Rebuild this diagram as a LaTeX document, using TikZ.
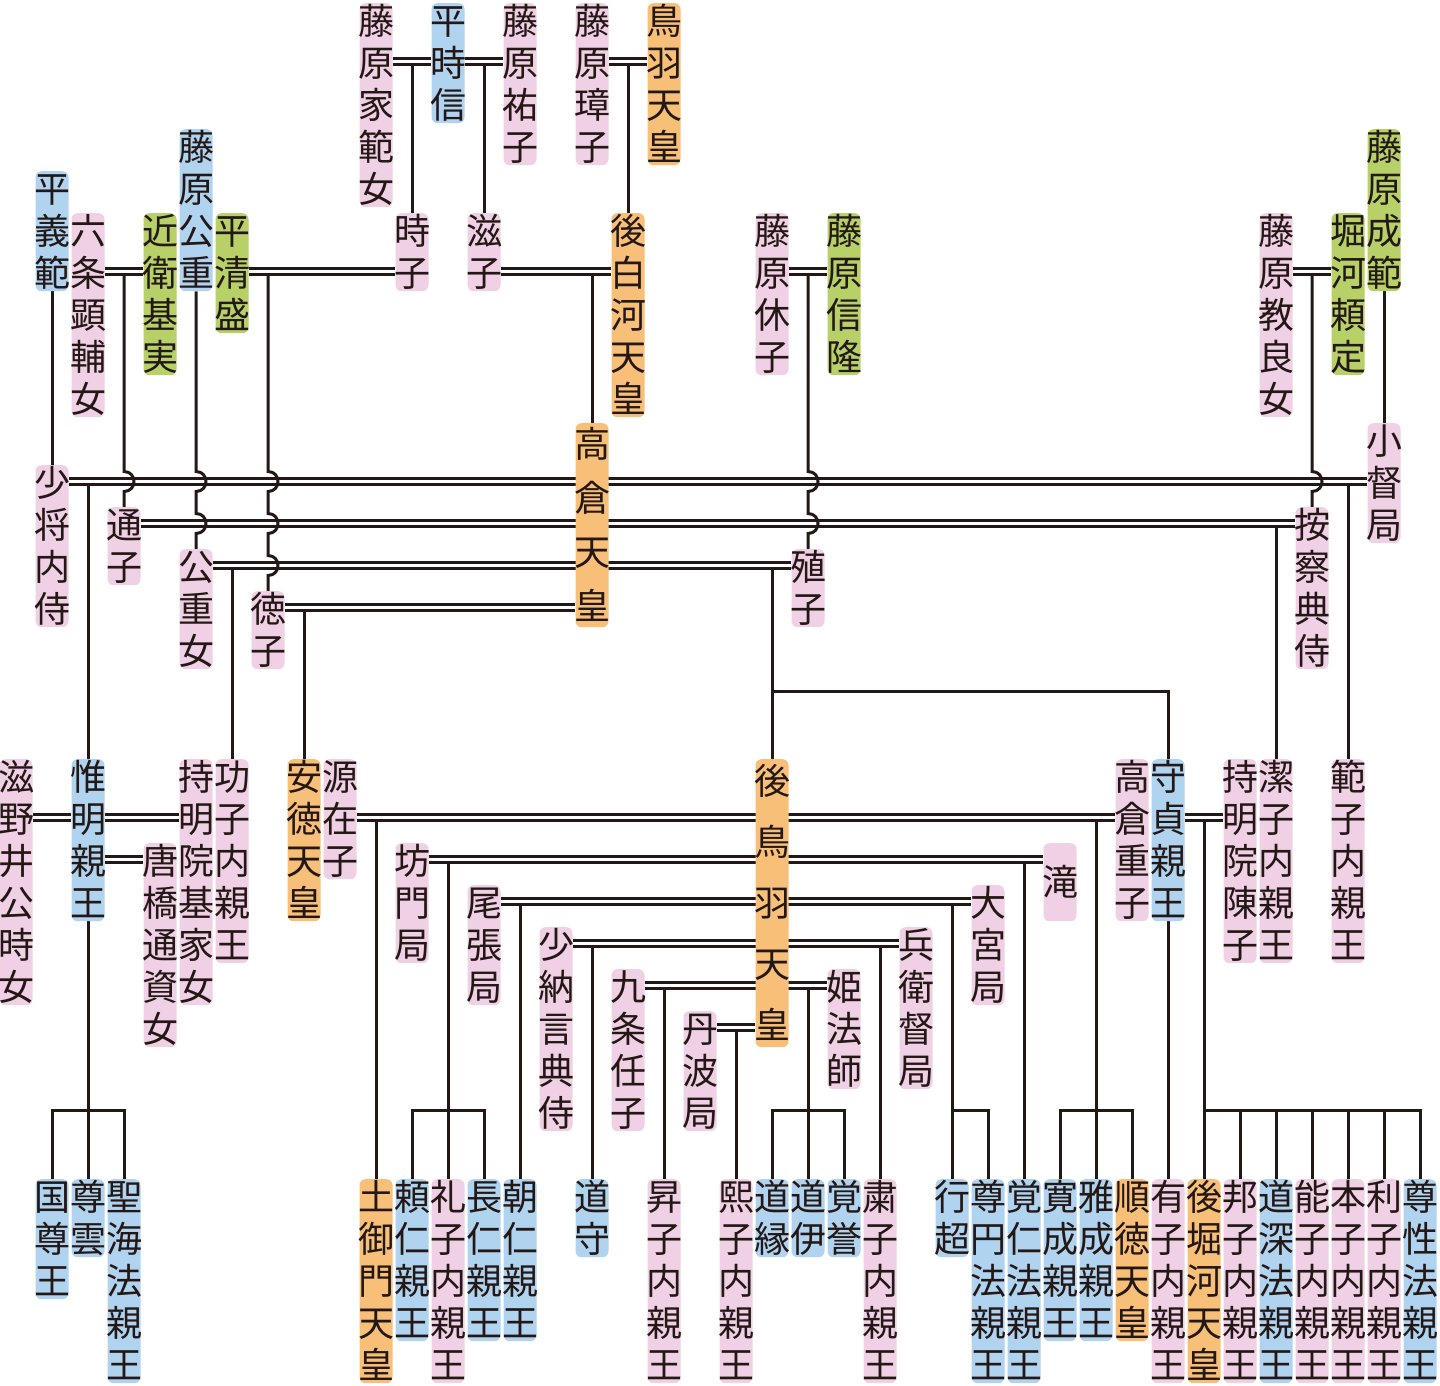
\documentclass[tikz,border=0pt]{standalone}
\usepackage{fontspec}
\newfontfamily\jp{Noto Sans CJK JP}
\usetikzlibrary{backgrounds}
\definecolor{pk}{HTML}{F0D0E4}
\definecolor{bl}{HTML}{B0D3EF}
\definecolor{og}{HTML}{F7BF78}
\definecolor{gr}{HTML}{B7D067}
\definecolor{ink}{HTML}{231815}
\newdimen\tatepitch
\newcommand\tatestrut{\rule[\dimexpr 13.7pt-\tatepitch/2\relax]{0pt}{\tatepitch}}
\def\tateloop#1{\ifx\relax#1\else\hbox to 33pt{\hss\tatestrut#1\hss}\expandafter\tateloop\fi}
\newcommand\tate[3]{\tatepitch=#2pt\relax\vbox to #1pt{\offinterlineskip\vss\tateloop#3\relax\vss}}
\tikzset{
  pbox/.style={anchor=north, inner sep=0pt, rounded corners=6pt, minimum width=33pt,
    text=ink, font=\jp\fontsize{36}{42}\selectfont},
  ln/.style={draw=ink, line width=3pt}
}
\newcommand\psn[7][42]{\node[pbox,fill=#6] (#2) at (#3,#4) {\tate{#5}{#1}{#7}};}
\newcommand\marr[3]{\draw[ln] (#1.east |- 0,#3) -- (#2.west |- 0,#3);
  \draw[ln] (#1.east |- 0,#3+6) -- (#2.west |- 0,#3+6);}
\newcommand\drop[2]{\draw[ln] (#1.north |- 0,#2) -- (#1.north);}
\newcommand\branch[2]{\draw[ln] (#1.north) -- (#1.north |- 0,1110) -- (#2.north |- 0,1110) -- (#2.north);}
\begin{document}
\begin{tikzpicture}[x=1pt,y=-1pt]
\useasboundingbox (0,0) rectangle (1440,1386);
% top
\psn{ieno}{376}{3}{204}{pk}{藤原家範女}
\psn{tokinobu}{448}{3}{120}{bl}{平時信}
\psn{yuko}{520}{3}{162}{pk}{藤原祐子}
\psn{shoshi}{592}{3}{162}{pk}{藤原璋子}
\psn{toba}{664}{3}{162}{og}{鳥羽天皇}
\psn{kinshige}{196}{129}{162}{bl}{藤原公重}
\psn{narinori}{1384}{129}{162}{gr}{藤原成範}
\psn{yoshinori}{52}{171}{120}{bl}{平義範}
\psn{rokujo}{88}{213}{204}{pk}{六条顕輔女}
\psn{motozane}{160}{213}{162}{gr}{近衛基実}
\psn{kiyomori}{232}{213}{120}{gr}{平清盛}
\psn{tokiko}{412}{213}{78}{pk}{時子}
\psn{shigeko}{484}{213}{78}{pk}{滋子}
\psn{goshirakawa}{628}{213}{204}{og}{後白河天皇}
\psn{kyushi}{772}{213}{162}{pk}{藤原休子}
\psn{nobutaka}{844}{213}{162}{gr}{藤原信隆}
\psn{norira}{1276}{213}{204}{pk}{藤原教良女}
\psn{yorisada}{1348}{213}{162}{gr}{堀河頼定}
% middle
\psn[54]{takakura}{592}{423}{204}{og}{高倉天皇}
\psn{kogo}{1384}{423}{120}{pk}{小督局}
\psn{shosho}{52}{465}{162}{pk}{少将内侍}
\psn{michiko}{124}{507}{78}{pk}{通子}
\psn{azechi}{1312}{507}{162}{pk}{按察典侍}
\psn{kinshigejo}{196}{549}{120}{pk}{公重女}
\psn{shokushi}{808}{549}{78}{pk}{殖子}
\psn{tokuko}{268}{591}{78}{pk}{徳子}
% row 759
\psn{shigenoi}{16}{759}{246}{pk}{滋野井公時女}
\psn{koremei}{88}{759}{162}{bl}{惟明親王}
\psn{jimyoinmoto}{196}{759}{246}{pk}{持明院基家女}
\psn{isao}{232}{759}{204}{pk}{功子内親王}
\psn{antoku}{304}{759}{162}{og}{安徳天皇}
\psn{zaishi}{340}{759}{120}{pk}{源在子}
\psn[61]{gotoba}{772}{759}{288}{og}{後鳥羽天皇}
\psn{shigeko2}{1132}{759}{162}{pk}{高倉重子}
\psn{morisada}{1168}{759}{162}{bl}{守貞親王}
\psn{chinshi}{1240}{759}{204}{pk}{持明院陳子}
\psn{kiyoko}{1276}{759}{204}{pk}{潔子内親王}
\psn{hanko}{1348}{759}{204}{pk}{範子内親王}
% wives
\psn{karahashi}{160}{843}{204}{pk}{唐橋通資女}
\psn{bomon}{412}{843}{120}{pk}{坊門局}
\psn{taki}{1060}{843}{78}{pk}{滝}
\psn{owari}{484}{885}{120}{pk}{尾張局}
\psn{omiya}{988}{885}{120}{pk}{大宮局}
\psn{shonagon}{556}{927}{204}{pk}{少納言典侍}
\psn{hyoe}{916}{927}{162}{pk}{兵衛督局}
\psn{kujo}{628}{969}{162}{pk}{九条任子}
\psn{himehoshi}{844}{969}{120}{pk}{姫法師}
\psn{tamba}{700}{1011}{120}{pk}{丹波局}
% bottom
\psn{kunitaka}{52}{1179}{120}{bl}{国尊王}
\psn{sonun}{88}{1179}{78}{bl}{尊雲}
\psn{shokai}{124}{1179}{204}{bl}{聖海法親王}
\psn{tsuchimikado}{376}{1179}{204}{og}{土御門天皇}
\psn{yorihito}{412}{1179}{162}{bl}{頼仁親王}
\psn{reishi}{448}{1179}{204}{pk}{礼子内親王}
\psn{nagahito}{484}{1179}{162}{bl}{長仁親王}
\psn{asahito}{520}{1179}{162}{bl}{朝仁親王}
\psn{domori}{592}{1179}{78}{bl}{道守}
\psn{shoshi2}{664}{1179}{204}{pk}{昇子内親王}
\psn{kishi}{736}{1179}{204}{pk}{熙子内親王}
\psn{doen}{772}{1179}{78}{bl}{道縁}
\psn{doi}{808}{1179}{78}{bl}{道伊}
\psn{kakuyo}{844}{1179}{78}{bl}{覚誉}
\psn{shukushi}{880}{1179}{204}{pk}{粛子内親王}
\psn{gyocho}{952}{1179}{78}{bl}{行超}
\psn{sonen}{988}{1179}{204}{bl}{尊円法親王}
\psn{kakunin}{1024}{1179}{204}{bl}{覚仁法親王}
\psn{kansei}{1060}{1179}{162}{bl}{寛成親王}
\psn{gasei}{1096}{1179}{162}{bl}{雅成親王}
\psn{juntoku}{1132}{1179}{162}{og}{順徳天皇}
\psn{yushi}{1168}{1179}{204}{pk}{有子内親王}
\psn{gohorikawa}{1204}{1179}{204}{og}{後堀河天皇}
\psn{hoshi}{1240}{1179}{204}{pk}{邦子内親王}
\psn{dojin}{1276}{1179}{204}{bl}{道深法親王}
\psn{noshi}{1312}{1179}{204}{pk}{能子内親王}
\psn{honshi}{1348}{1179}{204}{pk}{本子内親王}
\psn{rishi}{1384}{1179}{204}{pk}{利子内親王}
\psn{sonsho}{1420}{1179}{204}{bl}{尊性法親王}
\begin{pgfonlayer}{background}
\fill[white] (0,0) rectangle (1440,1386);
% top generation
\marr{ieno}{tokinobu}{58.5}
\marr{tokinobu}{yuko}{58.5}
\marr{shoshi}{toba}{58.5}
\drop{tokiko}{64.5}
\drop{shigeko}{64.5}
\drop{goshirakawa}{64.5}
\marr{rokujo}{motozane}{268.5}
\marr{kiyomori}{tokiko}{268.5}
\marr{shigeko}{goshirakawa}{268.5}
\marr{kyushi}{nobutaka}{268.5}
\marr{norira}{yorisada}{268.5}
\drop{takakura}{274.5}
\draw[ln] (yoshinori.south) -- (shosho.north);
\draw[ln] (narinori.south) -- (kogo.north);
\draw[ln] (michiko.north |- 0,274.5) -- (124,471.5) .. controls +(13.3,0) and +(13.3,0) .. (124,491.5) -- (michiko.north);
\draw[ln] (kinshige.south) -- (196,471.5) .. controls +(13.3,0) and +(13.3,0) .. (196,491.5)
  -- (196,513.5) .. controls +(13.3,0) and +(13.3,0) .. (196,533.5) -- (kinshigejo.north);
\draw[ln] (tokuko.north |- 0,274.5) -- (268,471.5) .. controls +(13.3,0) and +(13.3,0) .. (268,491.5)
  -- (268,513.5) .. controls +(13.3,0) and +(13.3,0) .. (268,533.5)
  -- (268,555.5) .. controls +(13.3,0) and +(13.3,0) .. (268,575.5) -- (tokuko.north);
\draw[ln] (shokushi.north |- 0,274.5) -- (808,471.5) .. controls +(13.3,0) and +(13.3,0) .. (808,491.5)
  -- (808,513.5) .. controls +(13.3,0) and +(13.3,0) .. (808,533.5) -- (shokushi.north);
\draw[ln] (azechi.north |- 0,274.5) -- (1312,471.5) .. controls +(13.3,0) and +(13.3,0) .. (1312,491.5) -- (azechi.north);
% Takakura
\marr{shosho}{kogo}{478.5}
\marr{michiko}{azechi}{520.5}
\marr{kinshigejo}{shokushi}{562.5}
\marr{tokuko}{takakura}{604.5}
\drop{koremei}{484.5}
\drop{hanko}{484.5}
\drop{kiyoko}{526.5}
\drop{isao}{568.5}
\drop{gotoba}{568.5}
\draw[ln] (gotoba.north |- 0,691) -- (morisada.north |- 0,691) -- (morisada.north);
\drop{antoku}{610.5}
% lower
\marr{shigenoi}{koremei}{814.5}
\marr{koremei}{jimyoinmoto}{814.5}
\marr{zaishi}{shigeko2}{814.5}
\marr{morisada}{chinshi}{814.5}
\marr{koremei}{karahashi}{856.5}
\marr{bomon}{taki}{856.5}
\marr{owari}{omiya}{898.5}
\marr{shonagon}{hyoe}{940.5}
\marr{kujo}{himehoshi}{982.5}
\marr{tamba}{gotoba}{1024.5}
\draw[ln] (koremei.south) -- (sonun.north);
\branch{kunitaka}{shokai}
\drop{tsuchimikado}{820.5}
\drop{gasei}{820.5}
\branch{kansei}{juntoku}
\drop{gohorikawa}{820.5}
\branch{gohorikawa}{sonsho}
\drop{hoshi}{1110}
\drop{dojin}{1110}
\drop{noshi}{1110}
\drop{honshi}{1110}
\drop{rishi}{1110}
\draw[ln] (morisada.south) -- (yushi.north);
\drop{reishi}{862.5}
\branch{yorihito}{nagahito}
\drop{kakunin}{862.5}
\drop{asahito}{904.5}
\drop{gyocho}{904.5}
\branch{gyocho}{sonen}
\drop{domori}{946.5}
\drop{shukushi}{946.5}
\drop{shoshi2}{988.5}
\drop{doi}{988.5}
\branch{doen}{kakuyo}
\drop{kishi}{1030.5}
\end{pgfonlayer}
\end{tikzpicture}
\end{document}
